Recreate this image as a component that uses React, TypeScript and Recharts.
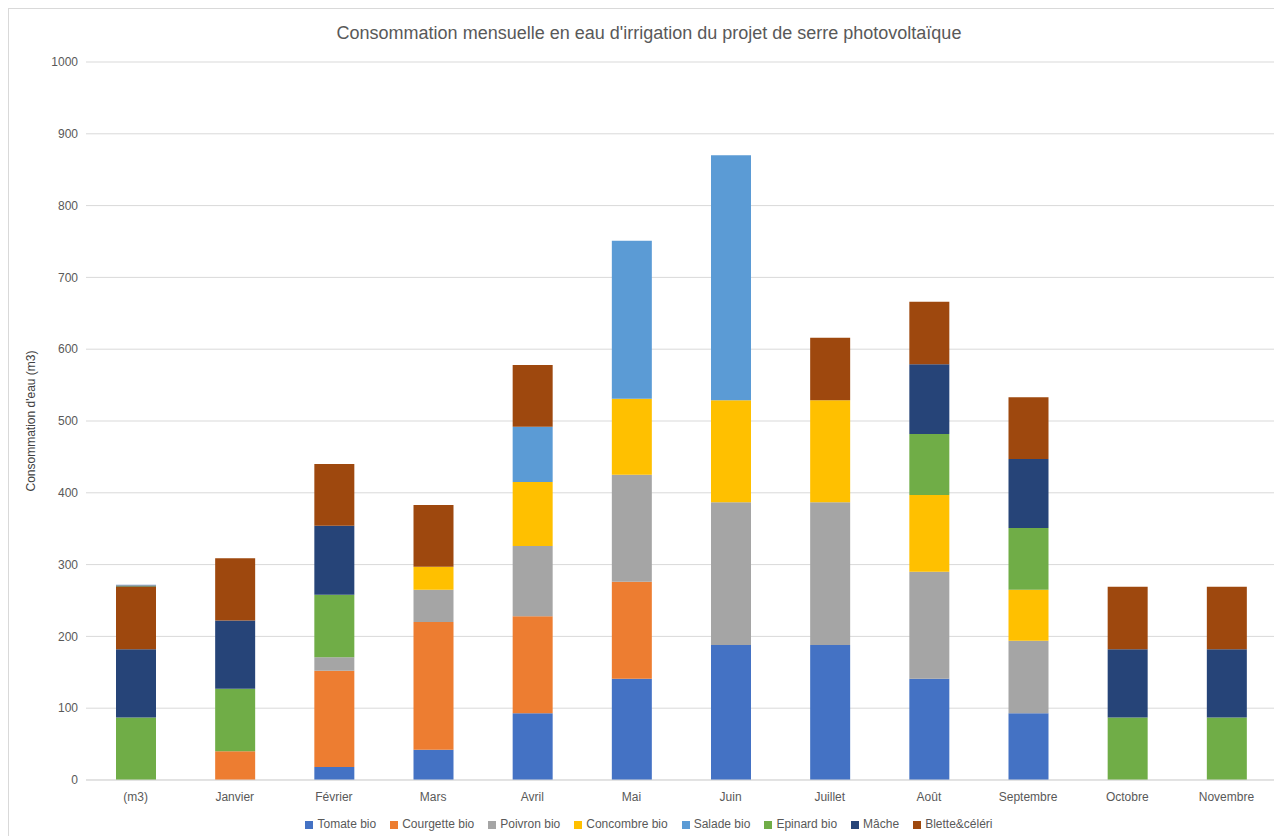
import { BarChart, Bar, XAxis, YAxis, CartesianGrid, Legend } from "recharts";

const months = ["(m3)", "Janvier", "Février", "Mars", "Avril", "Mai", "Juin", "Juillet", "Août", "Septembre", "Octobre", "Novembre"];

const tomate = [0, 0, 18, 42, 93, 141, 188, 188, 141, 93, 0, 0];
const courgette = [0, 40, 134, 178, 135, 135, 0, 0, 0, 0, 0, 0];
const poivron = [0, 0, 19, 45, 98, 149, 199, 199, 149, 101, 0, 0];
const concombre = [0, 0, 0, 32, 89, 106, 142, 142, 107, 71, 0, 0];
const salade = [0, 0, 0, 0, 77, 220, 341, 0, 0, 0, 0, 0];
const epinard = [87, 87, 87, 0, 0, 0, 0, 0, 85, 86, 87, 87];
const mache = [95, 95, 96, 0, 0, 0, 0, 0, 97, 96, 95, 95];
const blette = [87, 87, 86, 86, 86, 0, 0, 87, 87, 86, 87, 87];
// tiny unlabelled slivers on top of the (m3) bar
const extraA = [2, 0, 0, 0, 0, 0, 0, 0, 0, 0, 0, 0];
const extraB = [1, 0, 0, 0, 0, 0, 0, 0, 0, 0, 0, 0];

const yTicks = [0, 100, 200, 300, 400, 500, 600, 700, 800, 900, 1000];

const data = months.map((m, i) => ({
  month: m,
  tomate: tomate[i],
  courgette: courgette[i],
  poivron: poivron[i],
  concombre: concombre[i],
  salade: salade[i],
  epinard: epinard[i],
  mache: mache[i],
  blette: blette[i],
  extraA: extraA[i],
  extraB: extraB[i],
}));

const series = [
  { key: "tomate", name: "Tomate bio", color: "#4472C4" },
  { key: "courgette", name: "Courgette bio", color: "#ED7D31" },
  { key: "poivron", name: "Poivron bio", color: "#A5A5A5" },
  { key: "concombre", name: "Concombre bio", color: "#FFC000" },
  { key: "salade", name: "Salade bio", color: "#5B9BD5" },
  { key: "epinard", name: "Epinard bio", color: "#70AD47" },
  { key: "mache", name: "Mâche", color: "#264478" },
  { key: "blette", name: "Blette&céléri", color: "#9E480E" },
];

const order = series.map((s) => s.name);

const font = "'Liberation Sans', Arial, sans-serif";
const textColor = "#595959";

export default function App() {
  return (
    <div
      style={{
        position: "relative",
        width: 1274,
        height: 828,
        borderLeft: "1px solid #d9d9d9",
        borderTop: "1px solid #d9d9d9",
        background: "#fff",
        fontFamily: font,
      }}
    >
      <div
        style={{
          position: "absolute",
          top: 14,
          left: 0,
          width: 1280,
          textAlign: "center",
          fontSize: 18,
          color: textColor,
        }}
      >
        Consommation mensuelle en eau d'irrigation du projet de serre photovoltaïque
      </div>
      <div
        style={{
          position: "absolute",
          left: 22,
          top: 412,
          transform: "translate(-50%, -50%) rotate(-90deg)",
          fontSize: 12,
          color: "#404040",
          whiteSpace: "nowrap",
        }}
      >
        Consommation d'eau (m3)
      </div>
      <BarChart
        width={1274}
        height={828}
        data={data}
        margin={{ top: 53, right: 7, left: 27, bottom: 6 }}
        barSize={40}
      >
        <CartesianGrid vertical={false} stroke="#d9d9d9" />
        <XAxis
          dataKey="month"
          tickLine={false}
          axisLine={{ stroke: "#d9d9d9" }}
          tick={{ fill: textColor, fontSize: 12, fontFamily: font, dy: 4 }}
          height={37}
          interval={0}
        />
        <YAxis
          domain={[0, 1000]}
          ticks={yTicks}
          axisLine={false}
          tickLine={false}
          tick={{ fill: textColor, fontSize: 12, fontFamily: font }}
          width={50}
        />
        <Legend
          verticalAlign="bottom"
          iconType="square"
          iconSize={8}
          itemSorter={(item: any) => order.indexOf(item.value)}
          wrapperStyle={{ fontSize: 12, fontFamily: font, color: textColor }}
          formatter={(v) => <span style={{ color: textColor, marginRight: 4 }}>{v}</span>}
        />
        {series.map((s) => (
          <Bar key={s.key} dataKey={s.key} name={s.name} stackId="a" fill={s.color} isAnimationActive={false} />
        ))}
        <Bar dataKey="extraA" stackId="a" fill="#5f7048" legendType="none" isAnimationActive={false} />
        <Bar dataKey="extraB" stackId="a" fill="#6f90c4" legendType="none" isAnimationActive={false} />
      </BarChart>
    </div>
  );
}
